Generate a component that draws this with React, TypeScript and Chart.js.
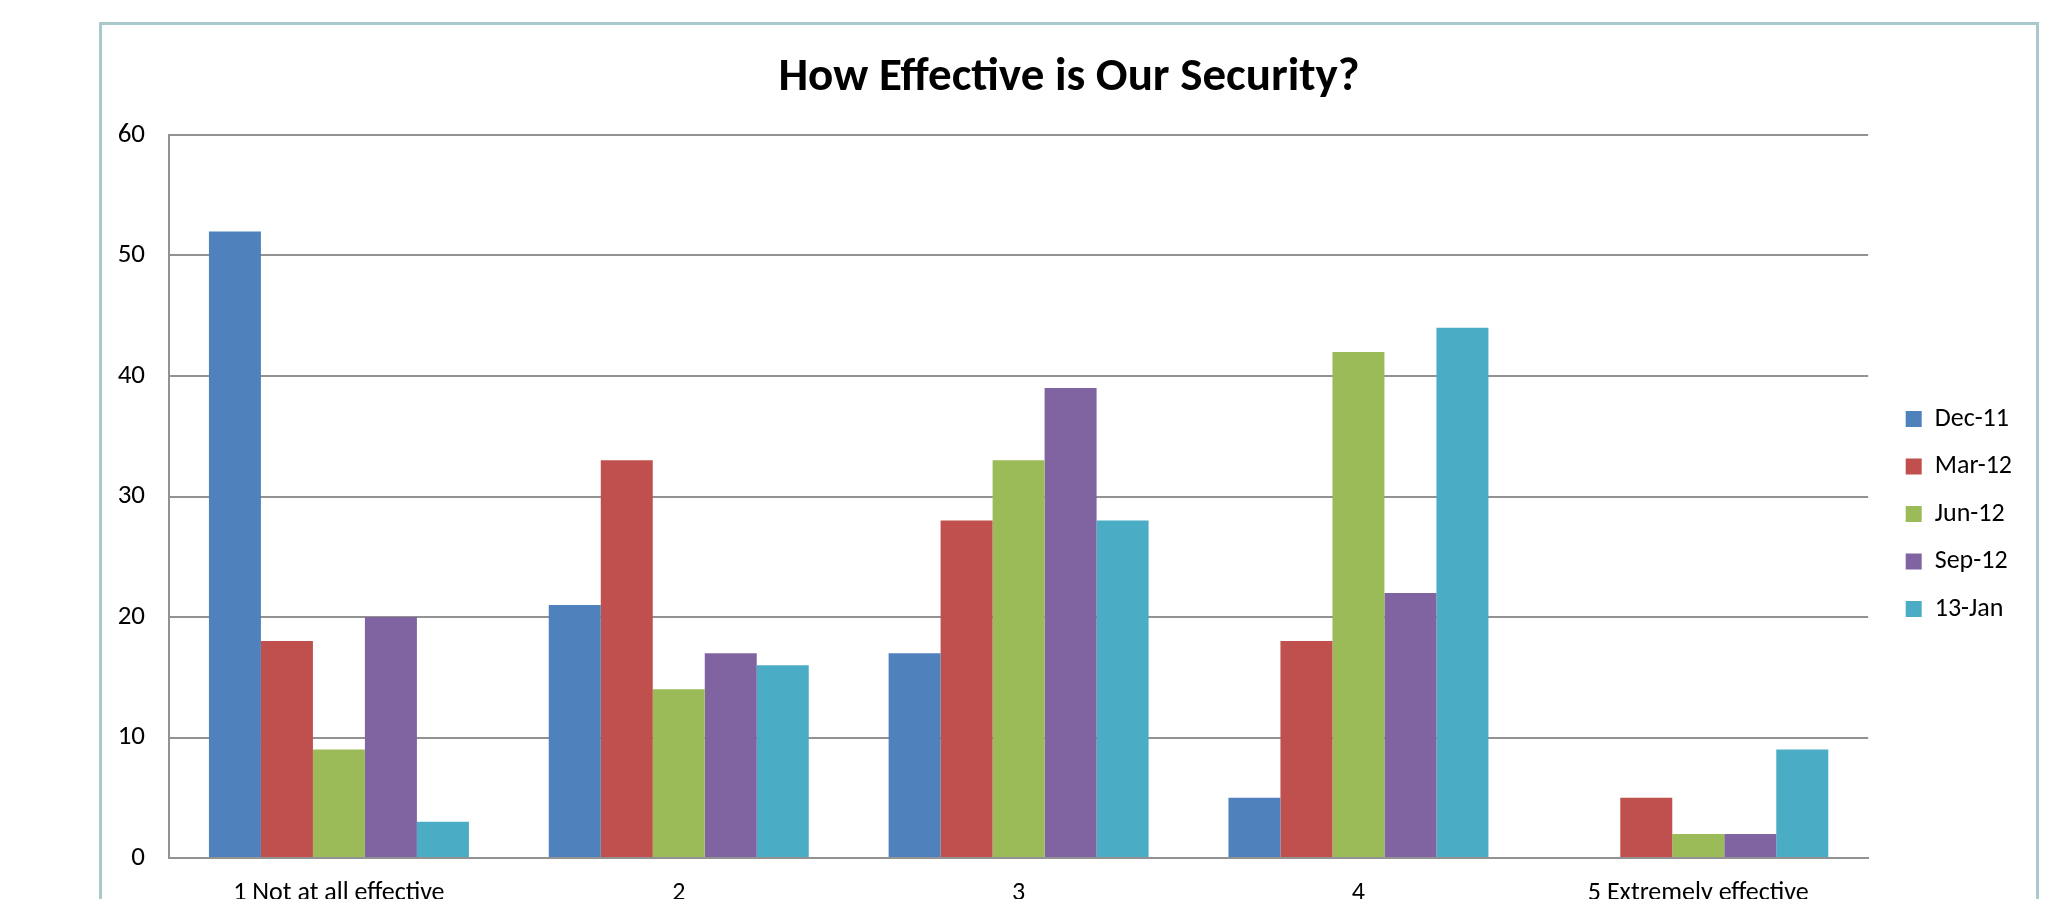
import React, { useEffect, useRef } from 'react';
import { Chart, registerables } from 'chart.js';

Chart.register(...registerables);

const categories = ['1 Not at all effective', '2', '3', '4', '5 Extremely effective'];
const seriesNames = ['Dec-11', 'Mar-12', 'Jun-12', 'Sep-12', '13-Jan'];
const dec11 = [52, 21, 17, 5, 0];
const mar12 = [18, 33, 28, 18, 5];
const jun12 = [9, 14, 33, 42, 2];
const sep12 = [20, 17, 39, 22, 2];
const jan13 = [3, 16, 28, 44, 9];
const seriesColors = ['#4F81BD', '#C0504D', '#9BBB59', '#8064A2', '#4BACC6'];
const yMin = 0;
const yMax = 60;
const yStep = 10;
const chartTitle = 'How Effective is Our Security?';

const FONT = 'Carlito, Calibri, Lato, sans-serif';
const GRID = '#929292';

// Places the legend a fixed gap to the right of the plot area and lets the
// y-axis labels use the whole left margin (so they are not clipped).
const layoutTweaks = {
  id: 'layoutTweaks',
  afterLayout(chart: any) {
    const lg = chart.legend;
    if (lg) {
      const dx = chart.chartArea.right + 16 - lg.left;
      lg.left += dx;
      lg.right += dx;
    }
    const y = chart.scales.y;
    if (y) {
      y.left = 0;
      y.width = y.right - y.left;
    }
  },
};

export default function App() {
  const ref = useRef<HTMLCanvasElement | null>(null);

  useEffect(() => {
    if (!ref.current) return;
    const values = [dec11, mar12, jun12, sep12, jan13];
    const chart = new Chart(ref.current, {
      type: 'bar',
      data: {
        labels: categories,
        datasets: seriesNames.map((name, i) => ({
          label: name,
          data: values[i],
          backgroundColor: seriesColors[i],
          borderWidth: 0,
          categoryPercentage: 0.765,
          barPercentage: 1.0,
        })),
      },
      options: {
        responsive: false,
        animation: false,
        devicePixelRatio: 1,
        layout: { padding: { left: 30, right: 30, top: 0, bottom: 0 } },
        plugins: {
          title: {
            display: true,
            text: chartTitle,
            color: '#000',
            font: { family: FONT, size: 47, weight: 'bold' },
            padding: { top: 25, bottom: 28.6 },
          },
          legend: {
            position: 'right',
            align: 'center',
            labels: {
              color: '#000',
              font: { family: FONT, size: 26 },
              boxWidth: 16,
              boxHeight: 16,
              padding: 21.5,
            },
          },
          tooltip: { enabled: false },
        },
        scales: {
          x: {
            grid: { display: false, drawTicks: false },
            border: { display: true, color: GRID, width: 2 },
            ticks: {
              color: '#000',
              font: { family: FONT, size: 26 },
              padding: 20,
              maxRotation: 0,
              autoSkip: false,
            },
            afterFit: (s: any) => {
              s.height = 145;
            },
          },
          y: {
            min: yMin,
            max: yMax,
            grid: { color: GRID, lineWidth: 2, drawTicks: false },
            border: { display: true, color: GRID, width: 2 },
            ticks: {
              stepSize: yStep,
              color: '#000',
              font: { family: FONT, size: 27 },
              padding: 24,
            },
            afterFit: (s: any) => {
              s.width = 37;
            },
          },
        },
      },
      plugins: [layoutTweaks],
    });
    return () => chart.destroy();
  }, []);

  return (
    <div
      style={{
        position: 'fixed',
        left: 0,
        top: 0,
        width: 2066,
        height: 899,
        overflow: 'hidden',
        background: '#fff',
      }}
    >
      <div
        style={{
          position: 'absolute',
          left: 99,
          top: 22,
          width: 1934,
          height: 1000,
          border: '3px solid #a9c9cd',
          background: '#fff',
        }}
      >
        <canvas
          ref={ref}
          width={1934}
          height={978}
          style={{ display: 'block', width: 1934, height: 978 }}
        />
      </div>
    </div>
  );
}
